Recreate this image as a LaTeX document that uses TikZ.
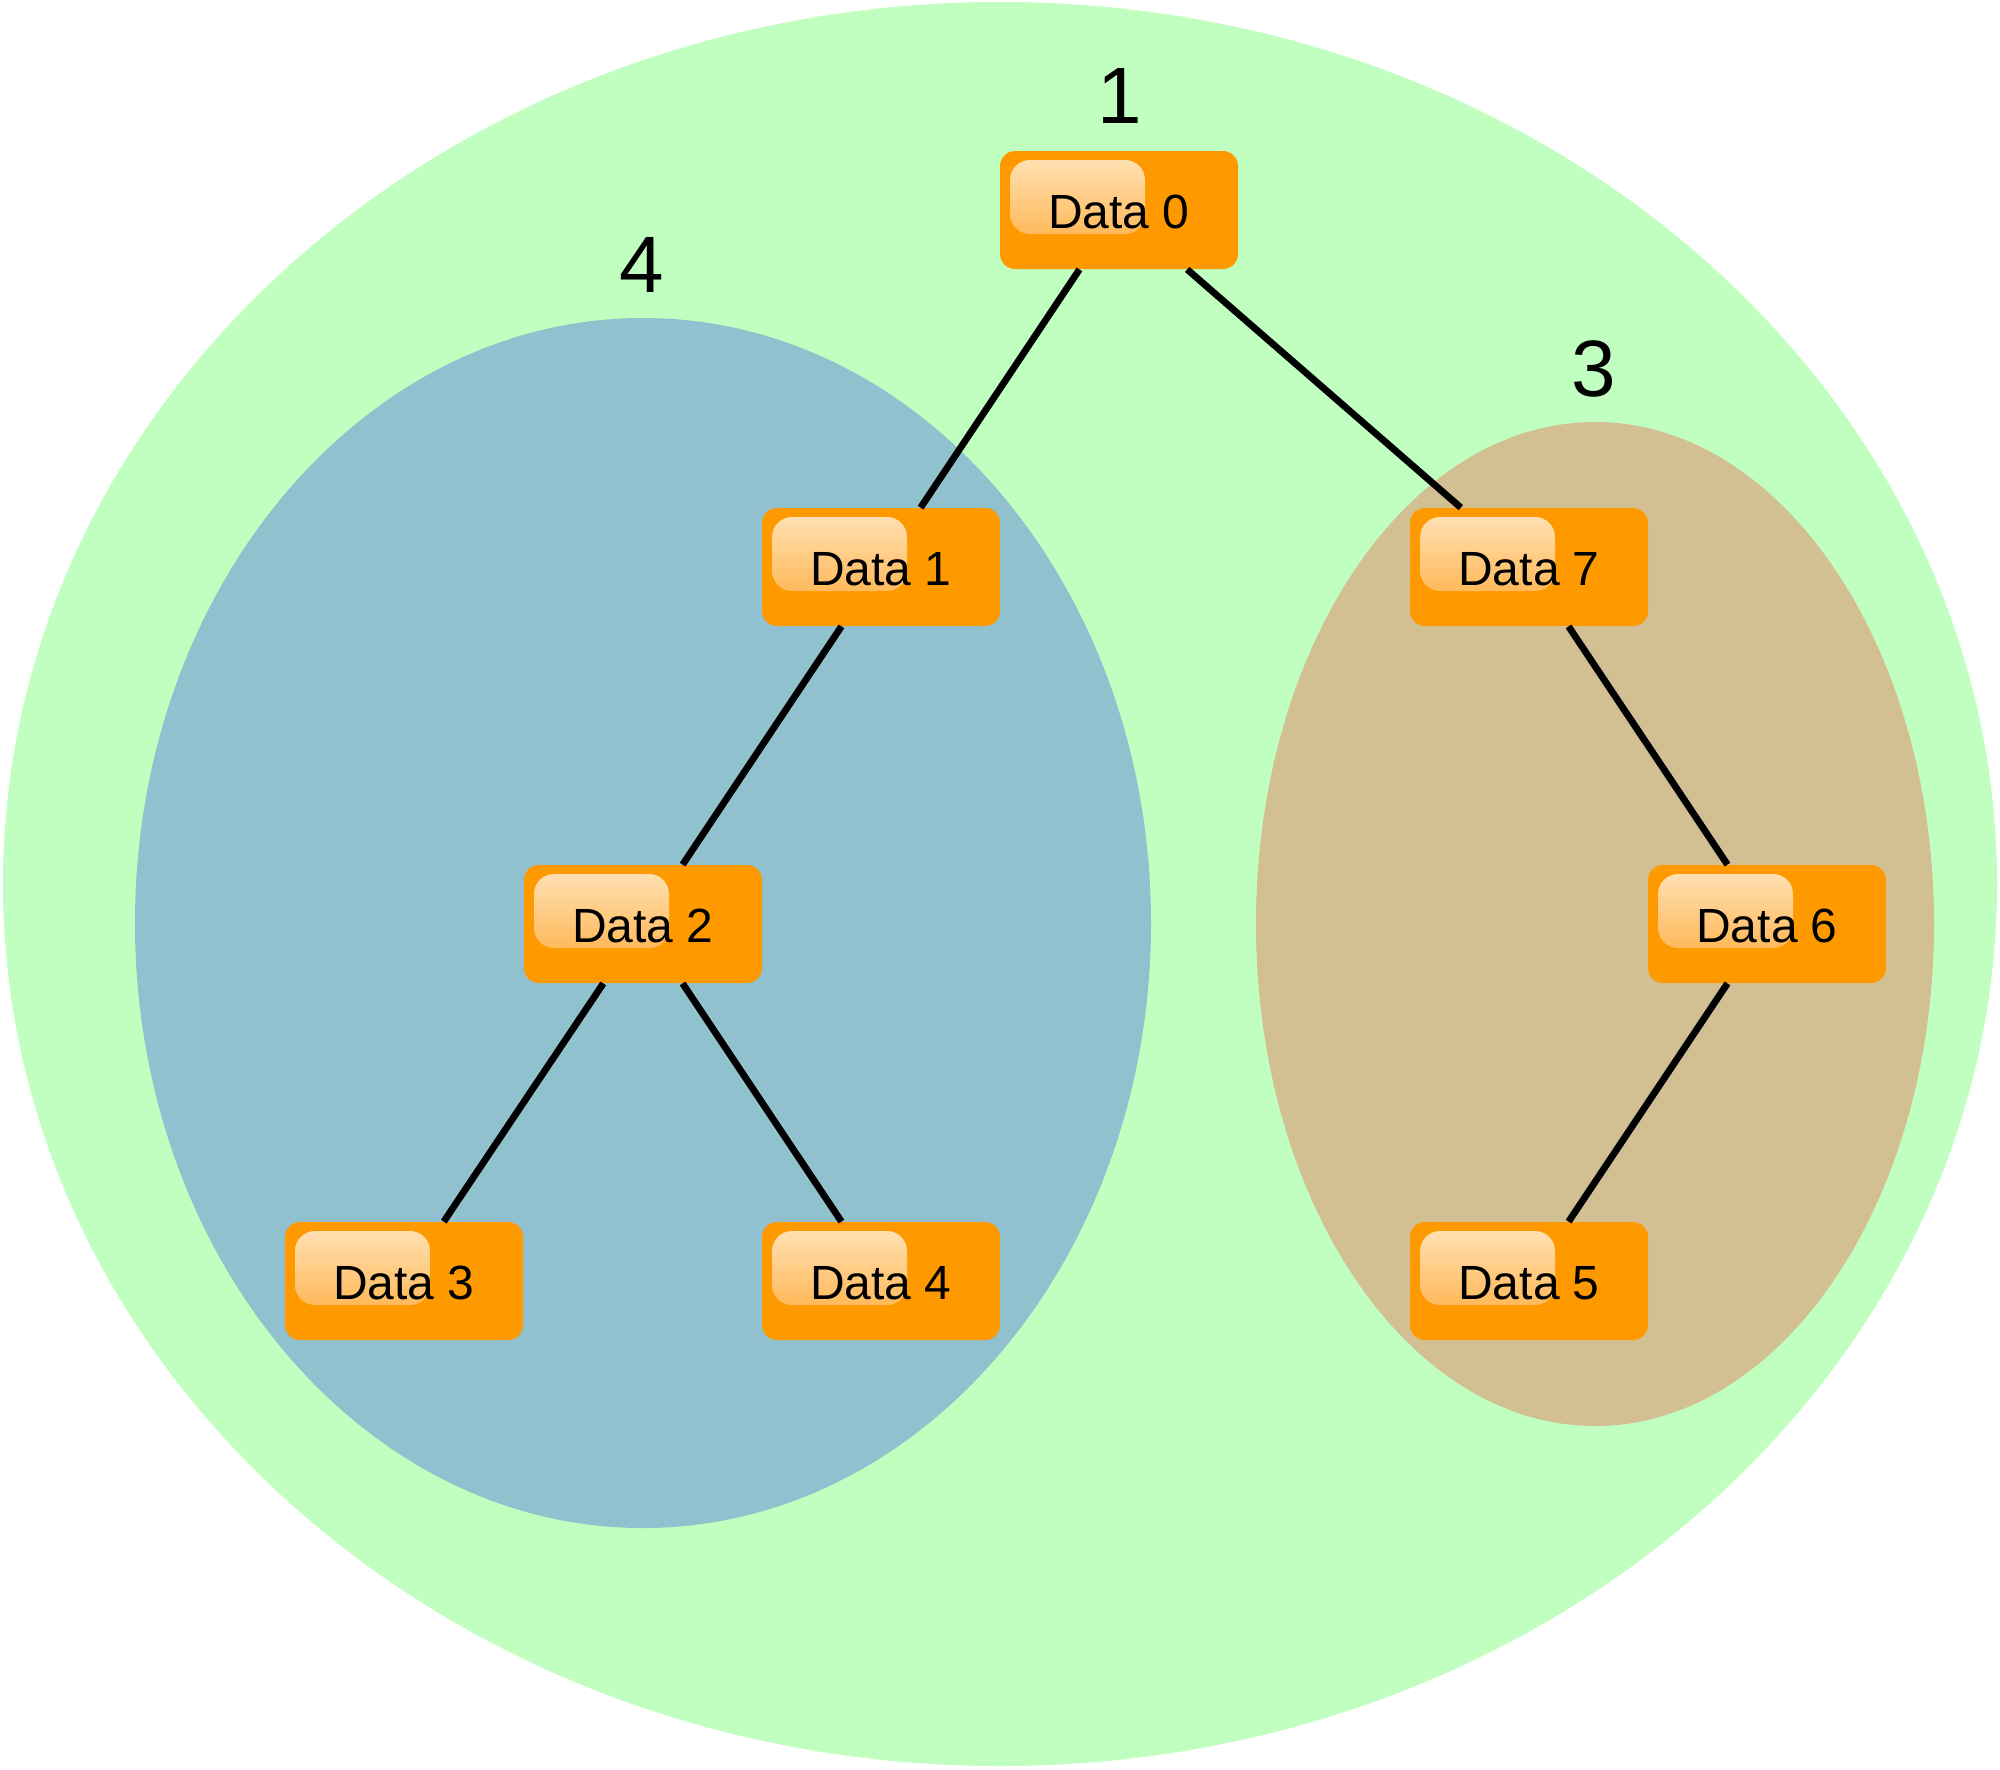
\documentclass[tikz,border=0pt]{standalone}
\usepackage{fontspec}
\setmainfont{Liberation Sans}
\definecolor{bggreen}{RGB}{192,255,192}
\definecolor{bblue}{RGB}{145,192,207}
\definecolor{btan}{RGB}{210,192,146}
\definecolor{dorange}{RGB}{255,153,0}
\definecolor{glosstop}{RGB}{255,228,188}
\definecolor{glossbot}{RGB}{255,168,50}
\begin{document}
\begin{tikzpicture}[x=0.5pt,y=-0.5pt,
  datanode/.style={rectangle, rounded corners=7.5pt, fill=dorange, inner sep=0pt,
    minimum width=119pt, minimum height=59pt, font=\fontsize{24}{29}\selectfont,
    text height=18.6pt, text depth=0pt,
    path picture={\shade[top color=glosstop, bottom color=glossbot, rounded corners=10pt]
      ([shift={(5pt,-4.5pt)}]path picture bounding box.north west) rectangle ++(67.5pt,-37pt);}},
  edge/.style={line width=3.4pt, black},
  setlabel/.style={font=\fontsize{40}{48}\selectfont, inner sep=0pt}]
\useasboundingbox (0,0) rectangle (2000,1769);
\fill[bggreen] (1000,884) ellipse [x radius=997, y radius=882];
\fill[bblue] (643,923) ellipse [x radius=508, y radius=605];
\fill[btan] (1595,924) ellipse [x radius=339, y radius=502];
\node[setlabel] (l1) at (1120,96) {1};
\node[setlabel] (l4) at (642,265) {4};
\node[setlabel] (l3) at (1594,369) {3};
\node[datanode] (d0) at (1119,210) {Data 0};
\node[datanode] (d1) at (881,567) {Data 1};
\node[datanode] (d7) at (1529,567) {Data 7};
\node[datanode] (d2) at (643,924) {Data 2};
\node[datanode] (d6) at (1767,924) {Data 6};
\node[datanode] (d3) at (404,1281) {Data 3};
\node[datanode] (d4) at (881,1281) {Data 4};
\node[datanode] (d5) at (1529,1281) {Data 5};
\draw[edge] (d0) -- (d1);
\draw[edge] (d0) -- (d7);
\draw[edge] (d1) -- (d2);
\draw[edge] (d2) -- (d3);
\draw[edge] (d2) -- (d4);
\draw[edge] (d7) -- (d6);
\draw[edge] (d6) -- (d5);
\end{tikzpicture}
\end{document}
